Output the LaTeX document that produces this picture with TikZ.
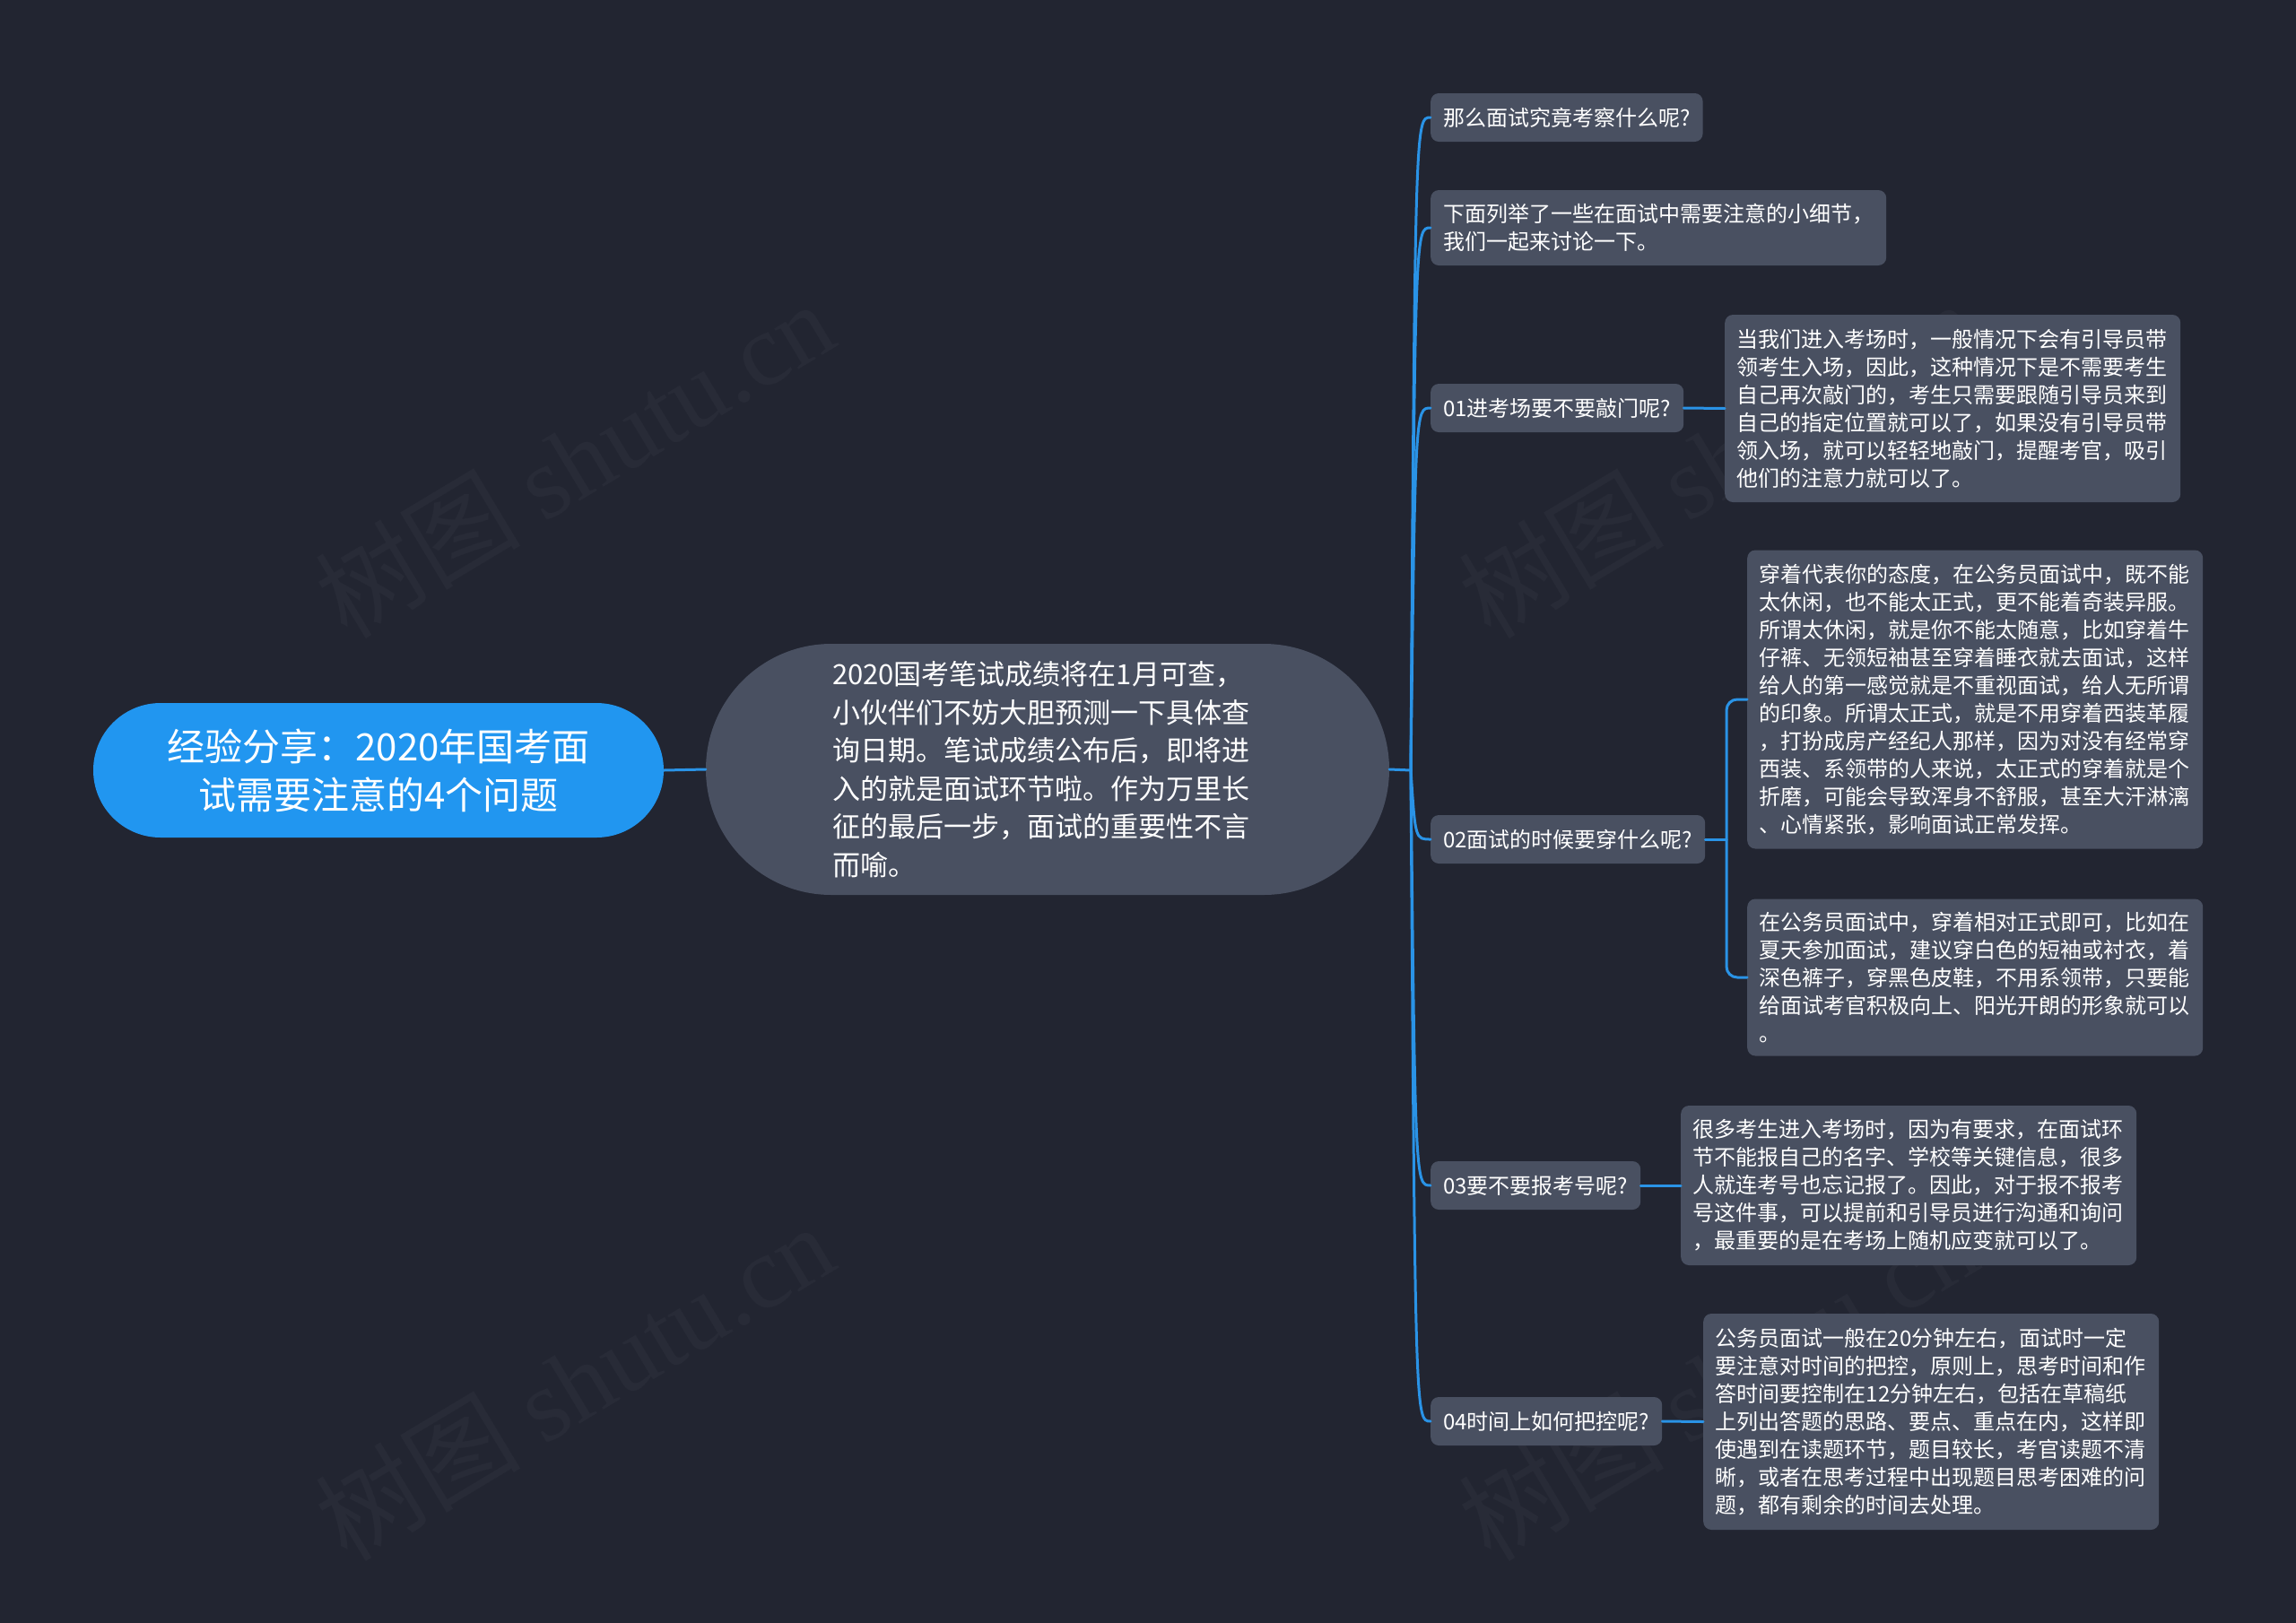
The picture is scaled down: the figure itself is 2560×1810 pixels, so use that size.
\documentclass[tikz,border=0pt]{standalone}
\usepackage{fontspec}
\setmainfont{Noto Sans CJK SC}
\newfontfamily\cjk{Noto Sans CJK SC}
\newfontfamily\wmserif{Liberation Serif}
\definecolor{bgc}{HTML}{222531}
\definecolor{boxc}{HTML}{495061}
\definecolor{rootc}{HTML}{2196F0}
\definecolor{linec}{HTML}{2A93E6}
\definecolor{wmc}{HTML}{282B37}
\begin{document}
\begin{tikzpicture}[x=1pt,y=-1pt,
  conn/.style={draw=linec, line width=3pt, line cap=round},
  qbox/.style={fill=boxc, rounded corners=9pt, text=white, font=\fontsize{24}{31}\selectfont, inner xsep=14pt, inner ysep=0pt, minimum height=54pt, anchor=west},
  dbox/.style={fill=boxc, rounded corners=9pt, text=white, font=\fontsize{24}{31}\selectfont, text width=481pt, align=left, inner xsep=13.5pt, inner ysep=0pt, anchor=west},
  rootbox/.style={fill=rootc, rounded corners=75pt, text=white, font=\fontsize{42}{54}\selectfont, align=center, minimum width=636pt, minimum height=150pt, inner sep=0pt},
  ctrbox/.style={fill=boxc, rounded corners=140pt, text=white, font=\fontsize{31}{42.5}\selectfont, text width=480pt, align=left, minimum width=762pt, minimum height=280pt, inner sep=0pt},
  wm/.style={text=wmc, rotate=31, font=\fontsize{115}{120}\selectfont, inner sep=0pt}
]
\useasboundingbox (0,0) rectangle (2560,1810);
\fill[bgc] (0,0) rectangle (2560,1810);

% watermarks
\node[wm] (w1) at (640,512) {{\cjk 树图} {\wmserif shutu.cn}};
\node[wm] (w2) at (640,1541) {{\cjk 树图} {\wmserif shutu.cn}};
\node[wm] (w3) at (1915,512) {{\cjk 树图} {\wmserif shutu.cn}};
\node[wm] (w4) at (1915,1541) {{\cjk 树图} {\wmserif shutu.cn}};

% main nodes
\node[rootbox] (root) at (422,859) {经验分享：2020年国考面\\试需要注意的4个问题};
\node[ctrbox] (ctr) at (1168,858) {2020国考笔试成绩将在1月可查，\\小伙伴们不妨大胆预测一下具体查\\询日期。笔试成绩公布后，即将进\\入的就是面试环节啦。作为万里长\\征的最后一步，面试的重要性不言\\而喻。};
\coordinate (J) at (1573,859);
\coordinate (Jc) at (1578,859);

\node[qbox] (q0) at (1595,131) {那么面试究竟考察什么呢?};
\node[qbox, text width=480pt, align=left, minimum height=84pt] (q1) at (1595,254) {下面列举了一些在面试中需要注意的小细节，\\我们一起来讨论一下。};
\node[qbox] (q2) at (1595,455) {01进考场要不要敲门呢?};
\node[qbox] (q3) at (1595,936) {02面试的时候要穿什么呢?};
\node[qbox] (q4) at (1595,1322) {03要不要报考号呢?};
\node[qbox] (q5) at (1595,1585) {04时间上如何把控呢?};

\node[dbox, minimum height=209pt] (d1) at (1923,455.5) {当我们进入考场时，一般情况下会有引导员带\\领考生入场，因此，这种情况下是不需要考生\\自己再次敲门的，考生只需要跟随引导员来到\\自己的指定位置就可以了，如果没有引导员带\\领入场，就可以轻轻地敲门，提醒考官，吸引\\他们的注意力就可以了。};
\node[dbox, minimum height=333pt] (d2a) at (1948,780) {穿着代表你的态度，在公务员面试中，既不能\\太休闲，也不能太正式，更不能着奇装异服。\\所谓太休闲，就是你不能太随意，比如穿着牛\\仔裤、无领短袖甚至穿着睡衣就去面试，这样\\给人的第一感觉就是不重视面试，给人无所谓\\的印象。所谓太正式，就是不用穿着西装革履\\，打扮成房产经纪人那样，因为对没有经常穿\\西装、系领带的人来说，太正式的穿着就是个\\折磨，可能会导致浑身不舒服，甚至大汗淋漓\\、心情紧张，影响面试正常发挥。};
\node[dbox, minimum height=175pt] (d2b) at (1948,1090) {在公务员面试中，穿着相对正式即可，比如在\\夏天参加面试，建议穿白色的短袖或衬衣，着\\深色裤子，穿黑色皮鞋，不用系领带，只要能\\给面试考官积极向上、阳光开朗的形象就可以\\。};
\node[dbox, minimum height=178pt] (d3) at (1874,1322) {很多考生进入考场时，因为有要求，在面试环\\节不能报自己的名字、学校等关键信息，很多\\人就连考号也忘记报了。因此，对于报不报考\\号这件事，可以提前和引导员进行沟通和询问\\，最重要的是在考场上随机应变就可以了。};
\node[dbox, minimum height=241pt] (d4) at (1899,1585.5) {公务员面试一般在20分钟左右，面试时一定\\要注意对时间的把控，原则上，思考时间和作\\答时间要控制在12分钟左右，包括在草稿纸\\上列出答题的思路、要点、重点在内，这样即\\使遇到在读题环节，题目较长，考官读题不清\\晰，或者在思考过程中出现题目思考困难的问\\题，都有剩余的时间去处理。};

% connectors
\draw[conn] (root.east) -- (ctr.west);
\draw[conn] (ctr.east) -- (J);
\foreach \q in {q0,q1,q2,q3,q4,q5}
  \draw[conn] (J) .. controls (Jc |- \q.west) and (Jc |- \q.west) .. (\q.west);
\draw[conn] (q2.east) -- (d1.west);
\coordinate (B) at (1925,936);
\draw[conn] (q3.east) -- (B);
\draw[conn, rounded corners=12pt] (d2a.west) -| (B) |- (d2b.west);
\draw[conn] (q4.east) -- (d3.west);
\draw[conn] (q5.east) -- (d4.west);
\end{tikzpicture}
\end{document}
